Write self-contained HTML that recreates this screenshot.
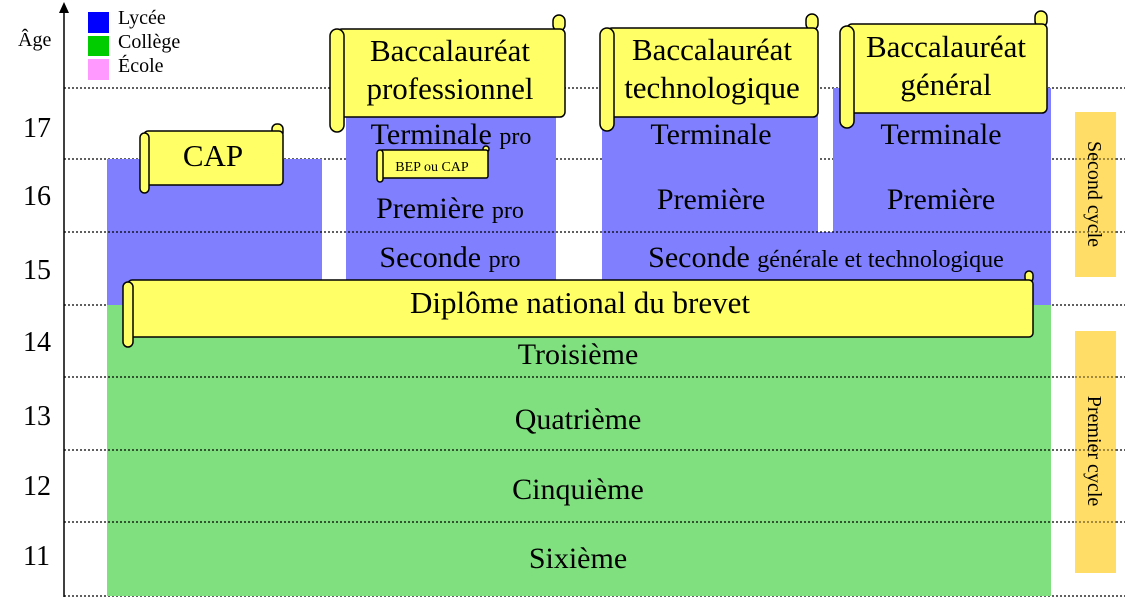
<!DOCTYPE html>
<html><head><meta charset="utf-8"><style>
html,body{margin:0;padding:0;background:#fff;}
svg, svg text{font-family:"Liberation Serif","DejaVu Serif",serif;}
</style></head><body>
<svg width="1129" height="598" viewBox="0 0 1129 598" xmlns="http://www.w3.org/2000/svg" font-family="Liberation Serif, DejaVu Serif, serif">
<g stroke="#000" stroke-width="1.3" stroke-dasharray="2,2">
<line x1="64" y1="88" x2="1125" y2="88"/>
<line x1="64" y1="159" x2="1125" y2="159"/>
<line x1="64" y1="305" x2="1125" y2="305"/>
<line x1="64" y1="596" x2="1125" y2="596"/>
</g>
<g fill="#8080ff">
<rect x="107" y="159" width="215" height="146"/>
<rect x="346" y="88" width="210" height="217"/>
<rect x="602" y="88" width="216" height="217"/>
<rect x="833" y="88" width="218" height="217"/>
<rect x="602" y="232" width="449" height="73"/>
</g>
<rect x="107" y="305" width="944" height="291" fill="#80e080"/>
<g stroke="#000" stroke-width="1.3" stroke-dasharray="2,2">
<line x1="64" y1="232" x2="1125" y2="232"/>
<line x1="64" y1="377" x2="1125" y2="377"/>
<line x1="64" y1="450" x2="1125" y2="450"/>
<line x1="64" y1="522" x2="1125" y2="522"/>
</g>
<rect x="1075" y="112" width="41" height="165" fill="#ffdd66"/>
<rect x="1075" y="331" width="41" height="242" fill="#ffdd66"/>
<g stroke="#000" stroke-width="1.3" stroke-dasharray="2,2" opacity="0.6">
<line x1="1075" y1="159" x2="1116" y2="159"/>
<line x1="1075" y1="232" x2="1116" y2="232"/>
<line x1="1075" y1="377" x2="1116" y2="377"/>
<line x1="1075" y1="450" x2="1116" y2="450"/>
<line x1="1075" y1="522" x2="1116" y2="522"/>
</g>
<text transform="translate(1088,194) rotate(90)" font-size="20" text-anchor="middle">Second cycle</text>
<text transform="translate(1088,451) rotate(90)" font-size="20" text-anchor="middle">Premier cycle</text>
<line x1="64" y1="10" x2="64" y2="597" stroke="#000" stroke-width="1.5"/>
<polygon points="64,2 59,13 69,13" fill="#000"/>
<text x="18" y="46" font-size="20">Âge</text>
<g font-size="28">
<text x="23" y="137">17</text>
<text x="23" y="205">16</text>
<text x="23" y="279">15</text>
<text x="23" y="351">14</text>
<text x="23" y="425">13</text>
<text x="23" y="495">12</text>
<text x="23" y="565">11</text>
</g>
<rect x="88" y="12" width="21" height="21" fill="#0000ff"/>
<rect x="88" y="36" width="21" height="20" fill="#00cc00"/>
<rect x="88" y="59" width="21" height="21" fill="#ff99ff"/>
<g font-size="20"><text x="118" y="24">Lycée</text><text x="118" y="48">Collège</text><text x="118" y="72">École</text></g>
<g font-size="30" text-anchor="middle">
<text x="451" y="144">Terminale <tspan font-size="24">pro</tspan></text>
<text x="450" y="218">Première <tspan font-size="24">pro</tspan></text>
<text x="450" y="267">Seconde <tspan font-size="24">pro</tspan></text>
<text x="711" y="144">Terminale</text>
<text x="711" y="209">Première</text>
<text x="941" y="144">Terminale</text>
<text x="941" y="209">Première</text>
<text x="826" y="267">Seconde <tspan font-size="24">générale et technologique</tspan></text>
<text x="578" y="364">Troisième</text>
<text x="578" y="429">Quatrième</text>
<text x="578" y="499">Cinquième</text>
<text x="578" y="568">Sixième</text>
</g>
<g fill="#ffff66" stroke="#000" stroke-width="1.5">
<rect x="272" y="124" width="11" height="14" rx="5"/>
<rect x="144" y="131" width="139" height="54" rx="4"/>
<rect x="140" y="133" width="9" height="60" rx="4.5"/>
<rect x="553" y="15" width="12" height="16" rx="6"/>
<rect x="337" y="29" width="228" height="88" rx="5"/>
<rect x="330" y="29" width="14" height="103" rx="7"/>
<rect x="806" y="14" width="12" height="16" rx="6"/>
<rect x="607" y="28" width="211" height="89" rx="5"/>
<rect x="600" y="28" width="14" height="103" rx="7"/>
<rect x="1035" y="11" width="12" height="16" rx="6"/>
<rect x="847" y="24" width="200" height="89" rx="5"/>
<rect x="840" y="26" width="14" height="102" rx="7"/>
<rect x="483" y="146" width="6" height="6" rx="3"/>
<rect x="380" y="150" width="108" height="28" rx="2"/>
<rect x="377" y="150" width="6" height="32" rx="3"/>
<rect x="1025" y="271" width="8" height="11" rx="4"/>
<rect x="128" y="280" width="905" height="57" rx="4"/>
<rect x="123" y="282" width="10" height="65" rx="5"/>
</g>
<g font-size="31" text-anchor="middle">
<text x="213" y="166">CAP</text>
<text x="450" y="61">Baccalauréat</text>
<text x="450" y="99">professionnel</text>
<text x="712" y="60">Baccalauréat</text>
<text x="712" y="98">technologique</text>
<text x="946" y="57">Baccalauréat</text>
<text x="946" y="95">général</text>
<text x="580" y="313">Diplôme national du brevet</text>
</g>
<text x="432" y="171" font-size="14" text-anchor="middle">BEP ou CAP</text>
</svg>
</body></html>
